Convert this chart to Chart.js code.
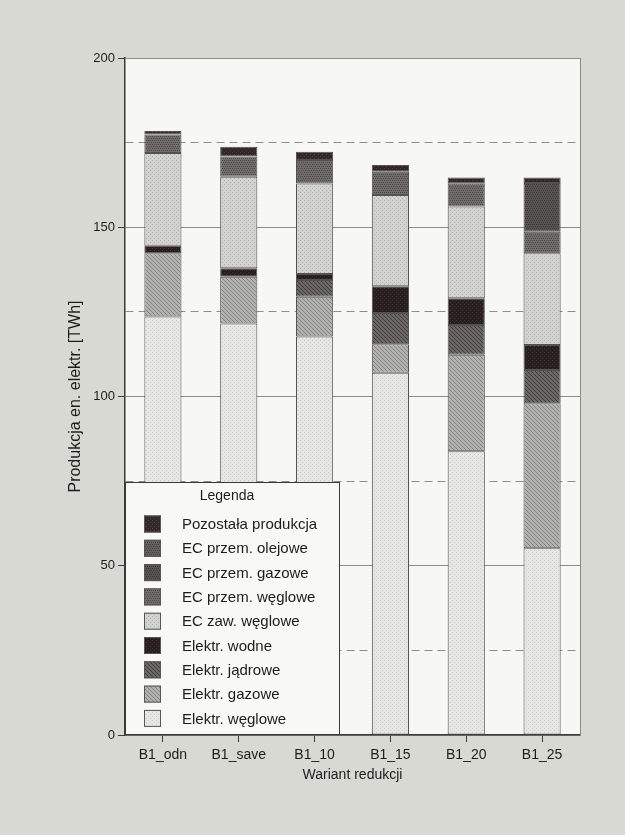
<!DOCTYPE html>
<html>
<head>
<meta charset="utf-8">
<script src="https://cdn.jsdelivr.net/npm/chart.js@4/dist/chart.umd.min.js"></script>
<style>
  html, body { margin: 0; padding: 0; background: #d9d9d4; }
  #wrap { width: 625px; height: 835px; position: relative; }
  canvas { display: block; }
</style>
</head>
<body>
<div id="wrap"><canvas id="c" width="625" height="835"></canvas></div>
<script>
// Electricity production by reduction variant [TWh], stacked bottom to top
const categories = ['B1_odn', 'B1_save', 'B1_10', 'B1_15', 'B1_20', 'B1_25'];
const elektrWeglowe  = [123.6, 121.6, 117.7, 107.0, 83.8, 55.2];
const elektrGazowe   = [18.7, 13.8, 11.8, 8.4, 28.5, 42.8];
const elektrJadrowe  = [0, 0, 4.9, 9.3, 8.8, 9.8];
const elektrWodne    = [2.2, 2.5, 1.8, 7.9, 7.9, 7.4];
const ecZawWeglowe   = [27.4, 27.0, 26.7, 26.9, 27.1, 27.1];
const ecPrzemWeglowe = [5.5, 6.0, 7.0, 6.9, 6.9, 6.4];
const ecPrzemGazowe  = [0, 0, 0, 0, 0, 14.4];
const ecPrzemOlejowe = [0, 0, 0, 0, 0, 0];
const pozostala      = [1.0, 2.9, 2.4, 2.0, 1.7, 1.6];
const yTickStep = 25;      // grid every 25, labels every 50
const yLabelStep = 50;

const FONT = "'Liberation Sans', Arial, sans-serif";
const TEXT = '#1c1c1c';
const canvas = document.getElementById('c');
const ctx2d = canvas.getContext('2d');

// small tiled textures imitating printed grey fills
function texture(base, ink, kind) {
  const t = document.createElement('canvas');
  t.width = 4; t.height = 4;
  const g = t.getContext('2d');
  g.fillStyle = base; g.fillRect(0, 0, 4, 4);
  g.fillStyle = ink;
  if (kind === 'dots') {
    g.fillRect(0, 0, 1, 1); g.fillRect(2, 2, 1, 1);
  } else if (kind === 'hatch') {
    for (let i = 0; i < 4; i++) g.fillRect(i, i, 1, 1);
  } else if (kind === 'dense') {
    g.fillRect(0, 0, 1, 1); g.fillRect(2, 0, 1, 1); g.fillRect(1, 2, 1, 1); g.fillRect(3, 2, 1, 1);
  }
  return ctx2d.createPattern(t, 'repeat');
}

const series = [
  { label: 'Elektr. węglowe',      data: elektrWeglowe,  fill: texture('#e6e6e2', '#cfcfcb', 'dots') },
  { label: 'Elektr. gazowe',       data: elektrGazowe,   fill: texture('#b2b2ae', '#82827e', 'hatch') },
  { label: 'Elektr. jądrowe',      data: elektrJadrowe,  fill: texture('#6a6866', '#403c3c', 'hatch') },
  { label: 'Elektr. wodne',        data: elektrWodne,    fill: texture('#2a1f1f', '#3e3434', 'dots') },
  { label: 'EC zaw. węglowe',      data: ecZawWeglowe,   fill: texture('#d2d2ce', '#b2b2ae', 'dots') },
  { label: 'EC przem. węglowe',    data: ecPrzemWeglowe, fill: texture('#726e6c', '#4a4646', 'dense') },
  { label: 'EC przem. gazowe',     data: ecPrzemGazowe,  fill: texture('#5a5555', '#383333', 'dense') },
  { label: 'EC przem. olejowe',    data: ecPrzemOlejowe, fill: texture('#666261', '#3e3a3a', 'dense') },
  { label: 'Pozostała produkcja',  data: pozostala,      fill: texture('#322828', '#4a4040', 'dots') }
];

// plot background and frame
const plotFrame = {
  id: 'plotFrame',
  beforeDraw(chart) {
    const { ctx, chartArea: a } = chart;
    ctx.save();
    ctx.fillStyle = '#f7f7f3';
    ctx.fillRect(a.left, a.top, a.right - a.left, a.bottom - a.top);
    ctx.restore();
  },
  afterDatasetsDraw(chart) {
    const { ctx, chartArea: a } = chart;
    ctx.save();
    ctx.strokeStyle = '#8a8a86';
    ctx.lineWidth = 1;
    ctx.beginPath();
    ctx.moveTo(a.right + 0.5, a.top);
    ctx.lineTo(a.right + 0.5, a.bottom);
    ctx.stroke();
    ctx.restore();
  }
};

// boxed legend in the lower-left corner of the plot
const boxLegend = {
  id: 'boxLegend',
  afterDraw(chart) {
    const { ctx, chartArea: a } = chart;
    const w = 215, h = 253;
    const x0 = a.left, y0 = a.bottom - h;
    ctx.save();
    ctx.fillStyle = '#f8f8f5';
    ctx.fillRect(x0, y0, w, h);
    ctx.strokeStyle = '#3a3a3a';
    ctx.lineWidth = 1;
    ctx.strokeRect(x0 + 0.5, y0 + 0.5, w - 1, h - 1);
    ctx.fillStyle = TEXT;
    ctx.textAlign = 'center';
    ctx.textBaseline = 'middle';
    ctx.font = '14px ' + FONT;
    ctx.fillText('Legenda', x0 + 102, y0 + 14);
    ctx.textAlign = 'left';
    ctx.font = '15px ' + FONT;
    const ds = chart.data.datasets;
    for (let k = 0; k < ds.length; k++) {
      const d = ds[ds.length - 1 - k];
      const cy = y0 + 42 + k * 24.3;
      ctx.fillStyle = d.backgroundColor;
      ctx.fillRect(x0 + 19, cy - 8.5, 17, 17);
      ctx.strokeStyle = '#555';
      ctx.strokeRect(x0 + 19.5, cy - 8, 16, 16);
      ctx.fillStyle = TEXT;
      ctx.fillText(d.label, x0 + 57, cy + 1);
    }
    ctx.restore();
  }
};

new Chart(canvas, {
  type: 'bar',
  data: {
    labels: categories,
    datasets: series.map(s => ({
      label: s.label,
      data: s.data.map(v => (v > 0 ? v : null)),
      backgroundColor: s.fill,
      borderColor: '#545250',
      borderWidth: 1,
      borderSkipped: false,
      categoryPercentage: 0.49,
      barPercentage: 1.0
    }))
  },
  options: {
    responsive: false,
    animation: false,
    layout: { padding: { top: 58, right: 45, bottom: 0, left: 0 } },
    plugins: { legend: { display: false }, tooltip: { enabled: false } },
    scales: {
      x: {
        stacked: true,
        grid: { offset: false, drawOnChartArea: false, tickLength: 7, tickColor: '#3a3a3a' },
        border: { color: '#3a3a3a', width: 1.5 },
        ticks: { font: { family: FONT, size: 14 }, color: TEXT, padding: 5, maxRotation: 0 },
        title: {
          display: true, text: 'Wariant redukcji',
          font: { family: FONT, size: 14 }, color: TEXT,
          padding: { top: 0, bottom: 51 }
        },
        afterFit: s => { s.height = 100; }
      },
      y: {
        stacked: true,
        min: 0, max: 200,
        ticks: {
          stepSize: yTickStep, autoSkip: false,
          font: { family: FONT, size: 13 }, color: TEXT, padding: 3,
          callback: v => (v % yLabelStep === 0 ? String(v) : '')
        },
        grid: {
          color: '#8e8e8a', lineWidth: 1, tickLength: 7,
          tickColor: c => (c.tick && c.tick.value % yLabelStep !== 0 ? 'rgba(0,0,0,0)' : '#3a3a3a')
        },
        border: {
          color: '#3a3a3a', width: 1.5,
          dash: c => (c.tick && c.tick.value % yLabelStep !== 0 ? [8, 5] : [])
        },
        title: {
          display: true, text: 'Produkcja en. elektr. [TWh]',
          font: { family: FONT, size: 16 }, color: TEXT,
          padding: { top: 66, bottom: 0 }
        },
        afterFit: s => { s.width = 125; }
      }
    }
  },
  plugins: [plotFrame, boxLegend]
});
</script>
</body>
</html>
